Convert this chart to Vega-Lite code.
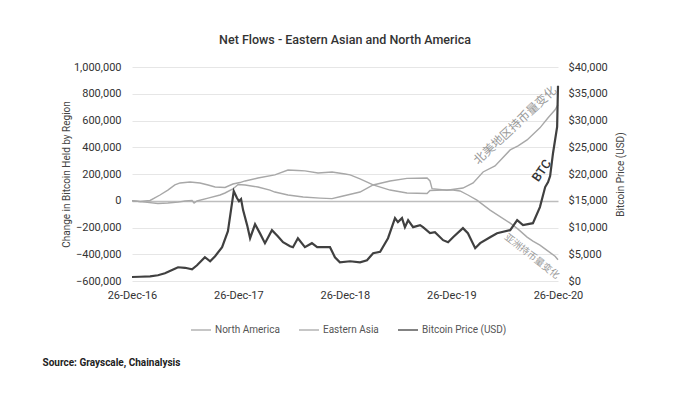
{
  "$schema": "https://vega.github.io/schema/vega-lite/v6.json",
  "width": 426,
  "height": 214,
  "autosize": {"type": "none"},
  "padding": {"left": 132, "top": 67, "right": 132, "bottom": 113},
  "background": "white",
  "config": {
    "font": "Roboto",
    "view": {"stroke": null},
    "axis": {"labelFont": "Roboto", "titleFont": "Roboto"}
  },
  "title": {
    "text": "Net Flows - Eastern Asian and North America",
    "fontSize": 12.5,
    "fontWeight": 500,
    "color": "#333333",
    "offset": 15,
    "anchor": "middle"
  },
  "datasets": {
    "flows": [
      {"d": "2016-12-26", "s": "North America", "v": 0},
      {"d": "2017-02-09", "s": "North America", "v": -10000},
      {"d": "2017-03-25", "s": "North America", "v": -21000},
      {"d": "2017-04-28", "s": "North America", "v": -17000},
      {"d": "2017-06-02", "s": "North America", "v": -10000},
      {"d": "2017-06-26", "s": "North America", "v": -2000},
      {"d": "2017-07-20", "s": "North America", "v": 2000},
      {"d": "2017-07-27", "s": "North America", "v": -17000},
      {"d": "2017-08-06", "s": "North America", "v": -2000},
      {"d": "2017-09-13", "s": "North America", "v": 20000},
      {"d": "2017-10-24", "s": "North America", "v": 43000},
      {"d": "2017-11-10", "s": "North America", "v": 58000},
      {"d": "2017-12-07", "s": "North America", "v": 88000},
      {"d": "2017-12-25", "s": "North America", "v": 122000},
      {"d": "2018-01-18", "s": "North America", "v": 118000},
      {"d": "2018-03-03", "s": "North America", "v": 103000},
      {"d": "2018-04-13", "s": "North America", "v": 80000},
      {"d": "2018-04-30", "s": "North America", "v": 65000},
      {"d": "2018-06-14", "s": "North America", "v": 43000},
      {"d": "2018-08-05", "s": "North America", "v": 28000},
      {"d": "2018-10-02", "s": "North America", "v": 20000},
      {"d": "2018-11-12", "s": "North America", "v": 16000},
      {"d": "2018-12-09", "s": "North America", "v": 30000},
      {"d": "2019-02-16", "s": "North America", "v": 65000},
      {"d": "2019-04-02", "s": "North America", "v": 118000},
      {"d": "2019-05-30", "s": "North America", "v": 148000},
      {"d": "2019-07-27", "s": "North America", "v": 167000},
      {"d": "2019-10-04", "s": "North America", "v": 170000},
      {"d": "2019-10-14", "s": "North America", "v": 148000},
      {"d": "2019-10-21", "s": "North America", "v": 90000},
      {"d": "2019-12-11", "s": "North America", "v": 78000},
      {"d": "2020-02-04", "s": "North America", "v": 95000},
      {"d": "2020-03-10", "s": "North America", "v": 133000},
      {"d": "2020-04-13", "s": "North America", "v": 215000},
      {"d": "2020-05-24", "s": "North America", "v": 260000},
      {"d": "2020-07-15", "s": "North America", "v": 380000},
      {"d": "2020-08-11", "s": "North America", "v": 410000},
      {"d": "2020-09-11", "s": "North America", "v": 455000},
      {"d": "2020-10-25", "s": "North America", "v": 545000},
      {"d": "2020-11-22", "s": "North America", "v": 620000},
      {"d": "2020-12-16", "s": "North America", "v": 680000},
      {"d": "2020-12-26", "s": "North America", "v": 718000},
      {"d": "2016-12-26", "s": "Eastern Asia", "v": 0},
      {"d": "2017-01-22", "s": "Eastern Asia", "v": -6000},
      {"d": "2017-02-26", "s": "Eastern Asia", "v": 2000},
      {"d": "2017-04-01", "s": "Eastern Asia", "v": 43000},
      {"d": "2017-04-28", "s": "Eastern Asia", "v": 80000},
      {"d": "2017-05-22", "s": "Eastern Asia", "v": 118000},
      {"d": "2017-06-09", "s": "Eastern Asia", "v": 133000},
      {"d": "2017-07-13", "s": "Eastern Asia", "v": 140000},
      {"d": "2017-08-16", "s": "Eastern Asia", "v": 133000},
      {"d": "2017-09-13", "s": "Eastern Asia", "v": 118000},
      {"d": "2017-10-07", "s": "Eastern Asia", "v": 103000},
      {"d": "2017-11-10", "s": "Eastern Asia", "v": 99000},
      {"d": "2017-12-07", "s": "Eastern Asia", "v": 125000},
      {"d": "2017-12-31", "s": "Eastern Asia", "v": 136000},
      {"d": "2018-01-18", "s": "Eastern Asia", "v": 148000},
      {"d": "2018-03-03", "s": "Eastern Asia", "v": 170000},
      {"d": "2018-04-30", "s": "Eastern Asia", "v": 193000},
      {"d": "2018-06-14", "s": "Eastern Asia", "v": 230000},
      {"d": "2018-07-18", "s": "Eastern Asia", "v": 226000},
      {"d": "2018-08-11", "s": "Eastern Asia", "v": 223000},
      {"d": "2018-09-25", "s": "Eastern Asia", "v": 208000},
      {"d": "2018-11-12", "s": "Eastern Asia", "v": 215000},
      {"d": "2018-12-27", "s": "Eastern Asia", "v": 200000},
      {"d": "2019-01-13", "s": "Eastern Asia", "v": 193000},
      {"d": "2019-02-16", "s": "Eastern Asia", "v": 163000},
      {"d": "2019-04-02", "s": "Eastern Asia", "v": 118000},
      {"d": "2019-05-30", "s": "Eastern Asia", "v": 80000},
      {"d": "2019-07-27", "s": "Eastern Asia", "v": 58000},
      {"d": "2019-10-04", "s": "Eastern Asia", "v": 54000},
      {"d": "2019-10-14", "s": "Eastern Asia", "v": 77000},
      {"d": "2019-11-28", "s": "Eastern Asia", "v": 80000},
      {"d": "2020-01-01", "s": "Eastern Asia", "v": 80000},
      {"d": "2020-01-25", "s": "Eastern Asia", "v": 73000},
      {"d": "2020-02-21", "s": "Eastern Asia", "v": 43000},
      {"d": "2020-03-23", "s": "Eastern Asia", "v": 5000},
      {"d": "2020-05-07", "s": "Eastern Asia", "v": -70000},
      {"d": "2020-07-15", "s": "Eastern Asia", "v": -167000},
      {"d": "2020-08-11", "s": "Eastern Asia", "v": -212000},
      {"d": "2020-09-11", "s": "Eastern Asia", "v": -272000},
      {"d": "2020-10-01", "s": "Eastern Asia", "v": -302000},
      {"d": "2020-10-25", "s": "Eastern Asia", "v": -332000},
      {"d": "2020-11-22", "s": "Eastern Asia", "v": -377000},
      {"d": "2020-12-16", "s": "Eastern Asia", "v": -415000},
      {"d": "2020-12-26", "s": "Eastern Asia", "v": -441000}
    ],
    "btc": [
      {"d": "2016-12-26", "p": 750},
      {"d": "2017-01-22", "p": 790},
      {"d": "2017-02-26", "p": 880},
      {"d": "2017-03-25", "p": 1070},
      {"d": "2017-04-18", "p": 1440},
      {"d": "2017-05-22", "p": 2290},
      {"d": "2017-06-02", "p": 2570},
      {"d": "2017-06-26", "p": 2470},
      {"d": "2017-07-20", "p": 2190},
      {"d": "2017-08-06", "p": 2940},
      {"d": "2017-09-02", "p": 4440},
      {"d": "2017-09-20", "p": 3690},
      {"d": "2017-10-07", "p": 4630},
      {"d": "2017-10-31", "p": 6320},
      {"d": "2017-11-20", "p": 9310},
      {"d": "2017-12-10", "p": 16800},
      {"d": "2017-12-21", "p": 15500},
      {"d": "2017-12-28", "p": 14900},
      {"d": "2018-01-04", "p": 15300},
      {"d": "2018-01-11", "p": 13250},
      {"d": "2018-01-25", "p": 10400},
      {"d": "2018-02-04", "p": 8000},
      {"d": "2018-02-21", "p": 10600},
      {"d": "2018-03-10", "p": 8900},
      {"d": "2018-03-27", "p": 7070},
      {"d": "2018-04-20", "p": 9500},
      {"d": "2018-05-10", "p": 8380},
      {"d": "2018-05-28", "p": 7250},
      {"d": "2018-06-21", "p": 6500},
      {"d": "2018-07-01", "p": 6320},
      {"d": "2018-07-18", "p": 8000},
      {"d": "2018-08-11", "p": 6320},
      {"d": "2018-09-04", "p": 7070},
      {"d": "2018-09-22", "p": 6320},
      {"d": "2018-11-05", "p": 6320},
      {"d": "2018-11-22", "p": 4440},
      {"d": "2018-12-09", "p": 3500},
      {"d": "2019-01-13", "p": 3690},
      {"d": "2019-02-16", "p": 3500},
      {"d": "2019-03-12", "p": 3880},
      {"d": "2019-04-02", "p": 5190},
      {"d": "2019-04-26", "p": 5470},
      {"d": "2019-05-23", "p": 8000},
      {"d": "2019-06-16", "p": 11750},
      {"d": "2019-06-26", "p": 11000},
      {"d": "2019-07-10", "p": 11750},
      {"d": "2019-07-20", "p": 10060},
      {"d": "2019-07-31", "p": 11370},
      {"d": "2019-08-17", "p": 10060},
      {"d": "2019-09-10", "p": 10440},
      {"d": "2019-09-20", "p": 10060},
      {"d": "2019-10-14", "p": 8940},
      {"d": "2019-10-31", "p": 9130},
      {"d": "2019-11-28", "p": 7630},
      {"d": "2019-12-15", "p": 7250},
      {"d": "2020-01-01", "p": 8190},
      {"d": "2020-02-04", "p": 9880},
      {"d": "2020-02-21", "p": 8940},
      {"d": "2020-03-17", "p": 6130},
      {"d": "2020-04-03", "p": 7070},
      {"d": "2020-05-07", "p": 8190},
      {"d": "2020-05-31", "p": 8940},
      {"d": "2020-07-15", "p": 9500},
      {"d": "2020-08-08", "p": 11370},
      {"d": "2020-08-28", "p": 10440},
      {"d": "2020-10-01", "p": 10810},
      {"d": "2020-10-25", "p": 13810},
      {"d": "2020-11-12", "p": 17560},
      {"d": "2020-11-22", "p": 18500},
      {"d": "2020-11-29", "p": 19620},
      {"d": "2020-12-09", "p": 23930},
      {"d": "2020-12-23", "p": 28800},
      {"d": "2020-12-26", "p": 36490}
    ]
  },
  "layer": [
    {
      "data": {"name": "flows"},
      "mark": {"type": "line", "strokeWidth": 1.4},
      "encoding": {
        "x": {
          "field": "d",
          "type": "temporal",
          "scale": {
            "type": "utc",
            "domain": [
              {"year": 2016, "month": 12, "date": 26, "utc": true},
              {"year": 2020, "month": 12, "date": 26, "utc": true}
            ]
          },
          "axis": {
            "values": [
              {"year": 2016, "month": 12, "date": 26, "utc": true},
              {"year": 2017, "month": 12, "date": 26, "utc": true},
              {"year": 2018, "month": 12, "date": 26, "utc": true},
              {"year": 2019, "month": 12, "date": 26, "utc": true},
              {"year": 2020, "month": 12, "date": 26, "utc": true}
            ],
            "format": "%d-%b-%y",
            "labelFlush": false,
            "labelOverlap": false,
            "labelFontSize": 11,
            "labelColor": "#333333",
            "labelPadding": 8,
            "domain": false,
            "ticks": false,
            "grid": false,
            "title": "Source: Grayscale, Chainalysis",
            "titleX": -90,
            "titleY": 84,
            "titleAlign": "left",
            "titleAnchor": "start",
            "titleBaseline": "alphabetic",
            "titleFontSize": 10,
            "titleFontWeight": "bold",
            "titleColor": "#222222"
          }
        },
        "y": {
          "field": "v",
          "type": "quantitative",
          "scale": {"domain": [-600000, 1000000], "nice": false, "zero": false},
          "axis": {
            "values": [-600000, -400000, -200000, 0, 200000, 400000, 600000, 800000, 1000000],
            "format": ",.0f",
            "labelFontSize": 11,
            "labelColor": "#333333",
            "labelPadding": 11,
            "domain": false,
            "ticks": false,
            "grid": true,
            "gridColor": {"condition": {"test": "datum.value === 0", "value": "#bdbdbd"}, "value": "#e6e6e6"},
            "gridWidth": {"condition": {"test": "datum.value === 0", "value": 1.5}, "value": 1},
            "title": "Change in Bitcoin Held by Region",
            "titleFontSize": 10,
            "titleFontWeight": "normal",
            "titleColor": "#444444",
            "titlePadding": 2
          }
        },
        "color": {
          "field": "s",
          "type": "nominal",
          "scale": {
            "domain": ["North America", "Eastern Asia", "Bitcoin Price (USD)"],
            "range": ["#a8a8a8", "#a8a8a8", "#404040"]
          },
          "legend": {
            "orient": "none",
            "direction": "horizontal",
            "legendX": 58,
            "legendY": 252,
            "title": null,
            "symbolType": "stroke",
            "symbolSize": 400,
            "symbolStrokeWidth": 1.3,
            "labelFontSize": 10,
            "labelColor": "#555555",
            "labelOffset": 3,
            "columnPadding": 16
          }
        }
      }
    },
    {
      "data": {"name": "btc"},
      "mark": {"type": "line", "strokeWidth": 2.2},
      "encoding": {
        "x": {"field": "d", "type": "temporal"},
        "y": {
          "field": "p",
          "type": "quantitative",
          "scale": {"domain": [0, 40000], "nice": false},
          "axis": {
            "orient": "right",
            "values": [0, 5000, 10000, 15000, 20000, 25000, 30000, 35000, 40000],
            "format": "$,.0f",
            "labelFontSize": 11,
            "labelColor": "#333333",
            "labelPadding": 10,
            "domain": false,
            "ticks": false,
            "grid": false,
            "title": "Bitcoin Price (USD)",
            "titleAngle": 270,
            "titleBaseline": "top",
            "titleFontSize": 10,
            "titleFontWeight": "normal",
            "titleColor": "#444444",
            "titlePadding": 8
          }
        },
        "color": {"datum": "Bitcoin Price (USD)"}
      }
    },
    {
      "data": {"values": [{"d": "2020-08-01", "v": 565000, "t": "北美地区持币量变化"}]},
      "mark": {"type": "text", "font": "Noto Sans CJK SC", "fontSize": 12, "color": "#9a9a9a", "angle": -43, "align": "center", "baseline": "middle"},
      "encoding": {
        "x": {"field": "d", "type": "temporal"},
        "y": {"field": "v", "type": "quantitative", "scale": {"domain": [-600000, 1000000], "nice": false, "zero": false}, "axis": null},
        "text": {"field": "t"}
      }
    },
    {
      "data": {"values": [{"d": "2020-10-31", "v": 225000, "t": "BTC"}]},
      "mark": {"type": "text", "font": "Roboto", "fontSize": 12.5, "fontWeight": 500, "color": "#333333", "angle": -55, "align": "center", "baseline": "middle"},
      "encoding": {
        "x": {"field": "d", "type": "temporal"},
        "y": {"field": "v", "type": "quantitative", "scale": {"domain": [-600000, 1000000], "nice": false, "zero": false}, "axis": null},
        "text": {"field": "t"}
      }
    },
    {
      "data": {"values": [{"d": "2020-09-27", "v": -415000, "t": "亚洲持币量变化"}]},
      "mark": {"type": "text", "font": "Noto Sans CJK SC", "fontSize": 9.5, "color": "#9a9a9a", "angle": 38, "align": "center", "baseline": "middle"},
      "encoding": {
        "x": {"field": "d", "type": "temporal"},
        "y": {"field": "v", "type": "quantitative", "scale": {"domain": [-600000, 1000000], "nice": false, "zero": false}, "axis": null},
        "text": {"field": "t"}
      }
    }
  ],
  "resolve": {"scale": {"y": "independent"}}
}
